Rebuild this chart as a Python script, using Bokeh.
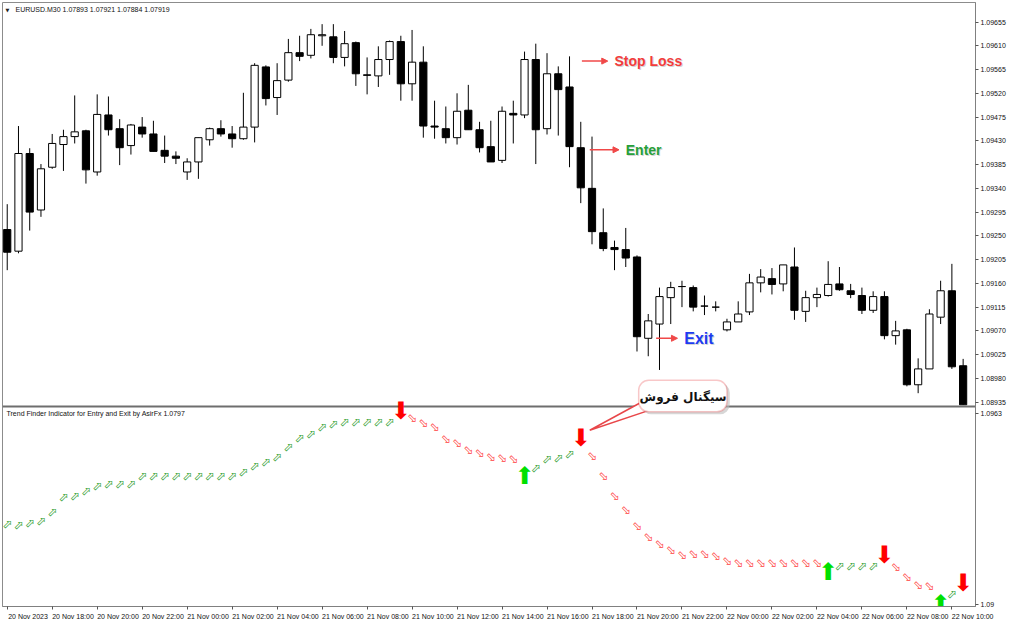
from bokeh.plotting import figure
from bokeh.models import (Range1d, FixedTicker, PrintfTickFormatter, ColumnDataSource,
                          Label, BoxAnnotation, Arrow, NormalHead)
from bokeh.core.properties import value
from bokeh.embed import file_html
from bokeh.resources import INLINE

# ---------------- data ----------------
symbol_title = "EURUSD.M30  1.07893 1.07921 1.07884 1.07919"
indicator_title = "Trend Finder Indicator for Entry and Exit by AsirFx 1.0797"

open_ = [
    1.09262, 1.09221, 1.09406, 1.09299, 1.09380, 1.09423, 1.09438, 1.09449, 1.09371, 1.09479,
    1.09453, 1.09421, 1.09456, 1.09443, 1.09412, 1.09401, 1.09371, 1.09390, 1.09432, 1.09453,
    1.09443, 1.09434, 1.09456, 1.09570, 1.09512, 1.09545, 1.09597, 1.09592, 1.09629, 1.09627,
    1.09588, 1.09616, 1.09555, 1.09553, 1.09584, 1.09618, 1.09538, 1.09579, 1.09458, 1.09453,
    1.09436, 1.09488, 1.09451, 1.09419, 1.09393, 1.09482, 1.09479, 1.09584, 1.09453, 1.09557,
    1.09532, 1.09417, 1.09340, 1.09256, 1.09228, 1.09224, 1.09210, 1.09056, 1.09083, 1.09133,
    1.09154, 1.09152, 1.09117, 1.09115, 1.09072, 1.09087, 1.09106, 1.09161, 1.09169, 1.09159,
    1.09191, 1.09107, 1.09133, 1.09137, 1.09159, 1.09146, 1.09137, 1.09109, 1.09135, 1.09061,
    1.09072, 1.08968, 1.08998, 1.09096, 1.09146, 1.09004]
high = [
    1.09310, 1.09458, 1.09416, 1.09386, 1.09443, 1.09451, 1.09516, 1.09451, 1.09518, 1.09514,
    1.09471, 1.09462, 1.09475, 1.09468, 1.09440, 1.09410, 1.09397, 1.09436, 1.09455, 1.09469,
    1.09458, 1.09521, 1.09577, 1.09573, 1.09577, 1.09623, 1.09629, 1.09642, 1.09651, 1.09651,
    1.09638, 1.09618, 1.09588, 1.09609, 1.09620, 1.09629, 1.09640, 1.09609, 1.09506, 1.09495,
    1.09520, 1.09536, 1.09466, 1.09468, 1.09495, 1.09506, 1.09599, 1.09614, 1.09596, 1.09571,
    1.09590, 1.09466, 1.09438, 1.09302, 1.09241, 1.09265, 1.09213, 1.09102, 1.09152, 1.09163,
    1.09165, 1.09156, 1.09137, 1.09126, 1.09093, 1.09126, 1.09178, 1.09187, 1.09189, 1.09195,
    1.09228, 1.09146, 1.09152, 1.09202, 1.09191, 1.09159, 1.09152, 1.09145, 1.09145, 1.09089,
    1.09074, 1.09018, 1.09111, 1.09165, 1.09197, 1.09017]
low = [
    1.09185, 1.09217, 1.09260, 1.09286, 1.09377, 1.09373, 1.09425, 1.09349, 1.09364, 1.09440,
    1.09384, 1.09404, 1.09436, 1.09410, 1.09388, 1.09386, 1.09356, 1.09358, 1.09421, 1.09438,
    1.09417, 1.09432, 1.09427, 1.09497, 1.09479, 1.09542, 1.09581, 1.09586, 1.09610, 1.09577,
    1.09571, 1.09534, 1.09518, 1.09532, 1.09555, 1.09506, 1.09506, 1.09436, 1.09434, 1.09425,
    1.09423, 1.09451, 1.09408, 1.09390, 1.09388, 1.09425, 1.09473, 1.09386, 1.09442, 1.09440,
    1.09380, 1.09312, 1.09234, 1.09221, 1.09185, 1.09191, 1.09031, 1.09022, 1.08996, 1.09083,
    1.09115, 1.09107, 1.09100, 1.09107, 1.09069, 1.09087, 1.09100, 1.09143, 1.09139, 1.09145,
    1.09091, 1.09087, 1.09115, 1.09135, 1.09146, 1.09132, 1.09102, 1.09104, 1.09054, 1.09044,
    1.08965, 1.08952, 1.08998, 1.09083, 1.08998, 1.08930]
close = [
    1.09219, 1.09406, 1.09295, 1.09377, 1.09425, 1.09438, 1.09447, 1.09375, 1.09480, 1.09451,
    1.09417, 1.09460, 1.09443, 1.09410, 1.09401, 1.09397, 1.09390, 1.09436, 1.09453, 1.09443,
    1.09434, 1.09456, 1.09573, 1.09510, 1.09544, 1.09597, 1.09590, 1.09631, 1.09631, 1.09588,
    1.09614, 1.09557, 1.09554, 1.09584, 1.09618, 1.09538, 1.09579, 1.09458, 1.09456, 1.09436,
    1.09486, 1.09451, 1.09417, 1.09390, 1.09486, 1.09479, 1.09584, 1.09451, 1.09557, 1.09527,
    1.09419, 1.09341, 1.09258, 1.09226, 1.09224, 1.09208, 1.09059, 1.09089, 1.09135, 1.09152,
    1.09154, 1.09115, 1.09117, 1.09115, 1.09087, 1.09102, 1.09161, 1.09172, 1.09158, 1.09195,
    1.09109, 1.09133, 1.09139, 1.09158, 1.09148, 1.09139, 1.09109, 1.09135, 1.09061, 1.09070,
    1.08968, 1.08998, 1.09102, 1.09146, 1.09002, 1.08930]

trend_line = [
    1.09257, 1.09254, 1.09260, 1.09267, 1.09298, 1.09345, 1.09348, 1.09364, 1.09379, 1.09386,
    1.09386, 1.09386, 1.09411, 1.09411, 1.09411, 1.09411, 1.09411, 1.09411, 1.09411, 1.09411,
    1.09411, 1.09423, 1.09445, 1.09455, 1.09473, 1.09505, 1.09533, 1.09545, 1.09570, 1.09577,
    1.09583, 1.09583, 1.09583, 1.09583, 1.09583, 1.09583, 1.09596, 1.09580, 1.09567, 1.09530,
    1.09517, 1.09495, 1.09486, 1.09473, 1.09470, 1.09467, 1.09448, 1.09436, 1.09467, 1.09470,
    1.09483, 1.09498, 1.09476, 1.09411, 1.09348, 1.09304, 1.09251, 1.09216, 1.09194, 1.09175,
    1.09160, 1.09163, 1.09163, 1.09157, 1.09141, 1.09132, 1.09132, 1.09132, 1.09132, 1.09132,
    1.09132, 1.09132, 1.09132, 1.09141, 1.09125, 1.09125, 1.09125, 1.09125, 1.09125, 1.09119,
    1.09088, 1.09063, 1.09060, 1.09038, 1.09035, 1.09035]
sell_signal_bars = [35, 51, 78, 85]
buy_signal_bars = [46, 73, 83]

x_tick_bars = [0, 4, 8, 12, 16, 20, 24, 28, 32, 36, 40, 44, 48, 52, 56, 60, 64, 68, 72, 76, 80, 84]
x_tick_labels = ["20 Nov 2023", "20 Nov 18:00", "20 Nov 20:00", "20 Nov 22:00", "21 Nov 00:00",
                 "21 Nov 02:00", "21 Nov 04:00", "21 Nov 06:00", "21 Nov 08:00", "21 Nov 10:00",
                 "21 Nov 12:00", "21 Nov 14:00", "21 Nov 16:00", "21 Nov 18:00", "21 Nov 20:00",
                 "21 Nov 22:00", "22 Nov 00:00", "22 Nov 02:00", "22 Nov 04:00", "22 Nov 06:00",
                 "22 Nov 08:00", "22 Nov 10:00"]
price_ticks = [1.08935, 1.08980, 1.09025, 1.09070, 1.09115, 1.09160, 1.09205, 1.09250, 1.09295,
               1.09340, 1.09385, 1.09430, 1.09475, 1.09520, 1.09565, 1.09610, 1.09655]
ind_scale_labels = ["1.0963", "1.09"]          # indicator window max / min
ind_label_levels = [1.09612, 1.09]              # where MT4 prints them (max label sits just under the top)

stop_loss_level, enter_level, exit_level = 1.09581, 1.09413, 1.09056
callout_text = "سیگنال فروش"

# ---------------- layout constants ----------------
X0, X1 = -0.42, 86.1
MAIN0, MAIN1 = 1.08548, 1.09692      # main price scale (upper 2/3 of the frame holds the candles)
IND0, IND1 = 1.08994, 1.10927        # indicator scale (lower 1/3 of the frame holds the arrows)
SEPARATOR = 1.08926
LABEL_SHIFT = 1.85                   # MT4 prints time labels to the right of their tick
FONT = "Liberation Sans"

def ind_to_main(v):
    return MAIN0 + (v - IND0) / (IND1 - IND0) * (MAIN1 - MAIN0)

# ---------------- build ----------------
bars = list(range(len(open_)))
src = ColumnDataSource(dict(
    x=bars, high=high, low=low,
    top=[max(o, c) for o, c in zip(open_, close)],
    bottom=[min(o, c) for o, c in zip(open_, close)],
    fill=["white" if c >= o else "black" for o, c in zip(open_, close)],
))

direction, state = [], "up"
for b in bars:
    if b in sell_signal_bars:
        state = "down"
    elif b in buy_signal_bars:
        state = "up"
    direction.append(state)

small = [b for b in bars if b not in sell_signal_bars and b not in buy_signal_bars]
small_src = ColumnDataSource(dict(
    x=small, y=[trend_line[b] for b in small],
    t=["\u2B00" if direction[b] == "up" else "\u2B02" for b in small],
    c=["#2f9e2f" if direction[b] == "up" else "#ff4040" for b in small],
))
sell_src = ColumnDataSource(dict(x=sell_signal_bars, y=[trend_line[b] for b in sell_signal_bars]))
buy_src = ColumnDataSource(dict(x=buy_signal_bars, y=[trend_line[b] for b in buy_signal_bars]))

p = figure(width=1008, height=622, x_range=Range1d(X0, X1), y_range=Range1d(MAIN0, MAIN1),
           y_axis_location="right", output_backend="svg", toolbar_location=None,
           min_border_left=2, min_border_top=2, min_border_bottom=0, min_border_right=0,
           outline_line_color="#8c8c8c", background_fill_color="white", border_fill_color="white")
p.extra_y_ranges = {"ind": Range1d(IND0, IND1)}
p.xgrid.visible = False
p.ygrid.visible = False

# right price scale (main prices + indicator window scale)
ax = p.yaxis[0]
ind_ticks = [ind_to_main(v) for v in ind_label_levels]
ax.ticker = FixedTicker(ticks=price_ticks + ind_ticks)
ax.formatter = PrintfTickFormatter(format="%.5f")
ax.major_label_overrides = {t: lab for t, lab in zip(ind_ticks, ind_scale_labels)}
ax.major_label_text_font = FONT
ax.major_label_text_font_size = "7px"
ax.major_label_text_color = "#111111"
ax.major_tick_out = 3
ax.major_tick_in = 0
ax.minor_tick_out = 0
ax.minor_tick_in = 0
ax.major_label_standoff = 2
ax.axis_line_color = "#808080"
ax.major_tick_line_color = "#555555"

# time scale
xa = p.xaxis[0]
label_pos = [b + LABEL_SHIFT for b in x_tick_bars]
xa.ticker = FixedTicker(ticks=label_pos, minor_ticks=x_tick_bars)
xa.major_label_overrides = {t: lab for t, lab in zip(label_pos, x_tick_labels)}
xa.major_label_text_font = FONT
xa.major_label_text_font_size = "7px"
xa.major_label_text_color = "#111111"
xa.major_tick_line_color = None
xa.major_tick_out = 0
xa.major_tick_in = 0
xa.minor_tick_out = 3
xa.minor_tick_in = 0
xa.minor_tick_line_color = "#555555"
xa.major_label_standoff = 3
xa.axis_line_color = "#808080"

# candles
p.segment(x0="x", y0="high", x1="x", y1="low", source=src, line_color="black", line_width=1)
p.vbar(x="x", width=0.64, top="top", bottom="bottom", fill_color="fill",
       line_color="black", line_width=1, source=src)

# panel separator
p.hspan(y=[SEPARATOR], line_color="#6e6e6e", line_width=2)

# indicator arrows
p.text(x="x", y="y", text="t", text_color="c", source=small_src, y_range_name="ind",
       text_font=value("DejaVu Sans"), text_font_size="12px",
       text_align="center", text_baseline="middle")
p.text(x="x", y="y", text=value("\u2B07"), text_color="#ff0000", source=sell_src, y_range_name="ind",
       text_font=value("DejaVu Sans"), text_font_size="24px", y_offset=-11,
       text_align="center", text_baseline="middle")
p.text(x="x", y="y", text=value("\u2B06"), text_color="#00e000", source=buy_src, y_range_name="ind",
       text_font=value("DejaVu Sans"), text_font_size="24px", y_offset=11,
       text_align="center", text_baseline="middle")

# callout tail pointing to the sell signal at bar 51
sig = sell_signal_bars[1]
p.patch(x=[56.3, sig + 0.8, 57.6], y=[1.09646, trend_line[sig] + 0.0006, 1.09628], y_range_name="ind",
        fill_color="white", line_color="#e8474a", line_width=1.5)

# titles
p.add_layout(Label(x=X0, y=MAIN1, x_offset=3, y_offset=-4, text="\u25BC", text_font="DejaVu Sans",
                   text_font_size="5px", text_baseline="top", text_color="#222222"))
p.add_layout(Label(x=X0, y=MAIN1, x_offset=13, y_offset=-3, text=symbol_title, text_font=FONT,
                   text_font_size="7px", text_baseline="top", text_color="#111111"))
p.add_layout(Label(x=X0, y=1.0963, x_offset=4, y_offset=-2, y_range_name="ind", text=indicator_title,
                   text_font=FONT, text_font_size="7px", text_baseline="top", text_color="#111111"))

# trade annotations
def note(x_from, x_to, level, text, color, size):
    p.add_layout(Arrow(x_start=x_from, y_start=level, x_end=x_to, y_end=level,
                       line_color="#f04848", line_width=1.5,
                       end=NormalHead(size=6, fill_color="#f04848", line_color="#f04848")))
    p.add_layout(Label(x=x_to + 0.6, y=level, x_offset=1, y_offset=-1, text=text, text_font=FONT,
                       text_font_style="bold", text_font_size=size, text_color="#d4d4d4",
                       text_baseline="middle"))
    p.add_layout(Label(x=x_to + 0.6, y=level, text=text, text_font=FONT, text_font_style="bold",
                       text_font_size=size, text_color=color, text_baseline="middle"))

note(51.1, 53.4, stop_loss_level, "Stop Loss", "#f23c3c", "14px")
note(51.8, 54.4, enter_level, "Enter", "#26a039", "14px")
note(57.7, 59.6, exit_level, "Exit", "#1d3cf2", "16px")

# callout bubble
p.add_layout(BoxAnnotation(left=56.4, right=64.25, bottom=1.09609, top=1.09710, y_range_name="ind",
                           fill_color="#bdbdbd", fill_alpha=0.6, line_color=None, border_radius=10))
p.add_layout(BoxAnnotation(left=56.15, right=64.0, bottom=1.09617, top=1.09718, y_range_name="ind",
                           fill_color="white", fill_alpha=1.0, line_color="#e8474a", line_width=1.5,
                           border_radius=10))
p.add_layout(Label(x=60.1, y=1.09666, y_range_name="ind", text=callout_text, text_font="DejaVu Sans",
                   text_font_style="bold", text_font_size="12px", text_align="center",
                   text_baseline="middle", text_color="#111111"))

open("out.html", "w").write(file_html(p, INLINE))
